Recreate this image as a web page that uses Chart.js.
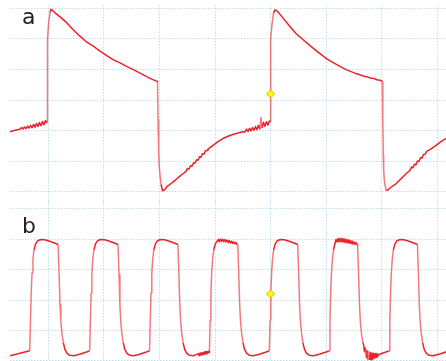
<!DOCTYPE html>
<html>
<head>
<meta charset="utf-8">
<script src="https://cdn.jsdelivr.net/npm/chart.js@4.4.1/dist/chart.umd.min.js"></script>
<style>
  html, body { margin: 0; padding: 0; background: #fff; }
  #scope { position: relative; width: 446px; height: 361px; overflow: hidden; }
  #scope canvas { position: absolute; left: 10px; }
  #scopeA { top: 5px; }
  #scopeB { top: 202px; }
  .trace-label {
    position: absolute; left: 22px; z-index: 2;
    font: 22px 'DejaVu Sans', sans-serif; line-height: 22px; color: #222;
  }
</style>
</head>
<body>
<div id="scope">
  <canvas id="scopeA" width="436" height="197"></canvas>
  <canvas id="scopeB" width="436" height="159"></canvas>
  <div class="trace-label" style="top:6px">a</div>
  <div class="trace-label" style="top:215px">b</div>
</div>
<script>
// time in divisions (0 = trigger), amplitude in divisions
const TIME_TICKS = [-4, -3, -2, -1, 0, 1, 2, 3];
const VOLT_TICKS_A = [-3, -2, -1, 0, 1, 2, 3];
const VOLT_TICKS_B = [-2, -1, 0, 1, 2, 3];
const TRIGGER = [[0, 0.2]];

const traceA = [
  [-4.690,-1.036],[-4.600,-0.990],
  [-4.510,-0.954],[-4.483,-0.901],[-4.456,-0.947],[-4.429,-0.882],[-4.402,-0.934],[-4.375,-0.855],
  [-4.348,-0.921],[-4.321,-0.829],[-4.294,-0.908],[-4.267,-0.799],[-4.240,-0.888],[-4.213,-0.770],
  [-4.186,-0.865],[-4.159,-0.737],[-4.132,-0.842],[-4.105,-0.704],[-4.078,-0.809],[-4.051,-0.671],
  [-4.033,-0.734],
  [-4.024,-0.700],[-4.018,0.664],[-4.013,1.980],[-3.997,2.474],[-3.970,2.868],[-3.952,2.967],[-3.925,2.941],
  [-3.880,2.852],[-3.790,2.720],[-3.669,2.530],[-3.556,2.309],[-3.430,2.089],[-3.322,1.914],
  [-3.191,1.760],[-3.070,1.602],[-2.949,1.454],[-2.836,1.322],[-2.710,1.214],[-2.584,1.092],
  [-2.471,0.993],[-2.332,0.862],[-2.170,0.707],[-2.044,0.609],
  [-2.035,0.599],[-2.026,-0.651],[-2.015,-1.638],[-2.005,-2.132],[-1.990,-2.461],[-1.972,-2.757],[-1.945,-2.970],
  [-1.909,-2.938],[-1.870,-2.845],[-1.810,-2.757],[-1.751,-2.681],[-1.666,-2.543],[-1.571,-2.405],
  [-1.522,-2.336],[-1.495,-2.237],[-1.468,-2.260],[-1.441,-2.151],[-1.414,-2.168],[-1.387,-2.053],
  [-1.360,-2.069],[-1.333,-1.954],[-1.306,-1.970],[-1.279,-1.855],[-1.252,-1.872],[-1.225,-1.757],
  [-1.198,-1.770],[-1.171,-1.658],[-1.144,-1.651],
  [-1.127,-1.605],[-1.031,-1.474],[-0.947,-1.359],[-0.851,-1.253],[-0.731,-1.161],[-0.623,-1.095],[-0.497,-1.036],
  [-0.461,-1.046],[-0.434,-0.954],[-0.407,-1.033],[-0.380,-0.928],[-0.353,-1.013],[-0.326,-0.901],
  [-0.299,-0.993],[-0.272,-0.868],[-0.245,-0.974],[-0.218,-0.829],[-0.191,-0.954],[-0.173,-0.569],
  [-0.155,-0.908],[-0.128,-0.730],[-0.101,-0.862],[-0.074,-0.711],[-0.047,-0.822],[-0.020,-0.684],
  [-0.007,-0.701],
  [-0.005,-0.700],[-0.002,0.664],[0.004,1.980],[0.025,2.474],[0.052,2.836],[0.079,2.951],[0.115,2.918],
  [0.229,2.671],[0.349,2.408],[0.457,2.178],[0.601,1.947],[0.758,1.707],[0.889,1.520],
  [1.010,1.345],[1.159,1.191],[1.357,0.993],[1.519,0.878],[1.657,0.796],
  [1.699,0.766],[1.753,0.750],[1.807,0.714],[1.861,0.704],[1.915,0.664],[1.969,0.648],[2.005,0.615],
  [2.010,0.599],[2.019,-0.651],[2.028,-1.803],[2.035,-2.296],[2.050,-2.691],[2.082,-2.964],
  [2.113,-2.938],[2.167,-2.855],[2.262,-2.734],[2.347,-2.576],[2.442,-2.405],
  [2.509,-2.303],[2.536,-2.191],[2.563,-2.217],[2.590,-2.099],[2.617,-2.118],[2.644,-1.993],
  [2.671,-2.013],[2.698,-1.888],[2.725,-1.901],[2.752,-1.783],[2.779,-1.783],[2.806,-1.684],
  [2.868,-1.622],[2.982,-1.474],[3.066,-1.359],[3.162,-1.253],
];

const traceB = [
  [-4.690,-1.833],[-4.510,-1.751],
  // cycle 1
  [-4.335,-1.669],[-4.321,-0.654],[-4.308,0.229],[-4.294,0.884],[-4.277,1.342],[-4.258,1.636],
  [-4.231,1.833],[-4.191,1.947],[-4.137,1.986],[-4.065,1.976],[-3.975,1.931],[-3.903,1.882],
  [-3.824,1.823],[-3.806,0.818],[-3.790,-0.164],[-3.774,-0.720],[-3.754,-1.113],[-3.730,-1.407],
  [-3.702,-1.620],[-3.666,-1.744],[-3.615,-1.816],[-3.543,-1.833],[-3.435,-1.783],[-3.327,-1.718],
  // cycle 2
  [-3.257,-1.669],[-3.243,-0.654],[-3.230,0.229],[-3.216,0.884],[-3.199,1.342],[-3.180,1.636],
  [-3.153,1.833],[-3.113,1.947],[-3.059,1.986],[-2.987,1.976],[-2.897,1.931],[-2.825,1.882],
  [-2.746,1.823],[-2.728,0.818],[-2.712,-0.164],[-2.696,-0.720],[-2.676,-1.113],[-2.652,-1.407],
  [-2.624,-1.620],[-2.588,-1.744],[-2.537,-1.816],[-2.465,-1.833],[-2.357,-1.783],[-2.249,-1.718],
  // cycle 3
  [-2.179,-1.669],[-2.165,-0.654],[-2.152,0.229],[-2.138,0.884],[-2.121,1.342],[-2.102,1.636],
  [-2.075,1.833],[-2.035,1.947],[-1.981,1.986],[-1.909,1.976],[-1.819,1.931],[-1.747,1.882],
  [-1.668,1.823],[-1.650,0.818],[-1.634,-0.164],[-1.618,-0.720],[-1.598,-1.113],[-1.574,-1.407],
  [-1.546,-1.620],[-1.510,-1.744],[-1.459,-1.816],[-1.387,-1.833],
  [-1.300,-1.760],[-1.285,-1.830],[-1.270,-1.745],[-1.255,-1.815],[-1.240,-1.730],[-1.225,-1.800],
  [-1.210,-1.715],[-1.195,-1.785],[-1.180,-1.700],[-1.165,-1.770],[-1.150,-1.690],[-1.135,-1.755],
  [-1.120,-1.680],[-1.108,-1.720],
  // cycle 4
  [-1.101,-1.669],[-1.087,-0.654],[-1.074,0.229],[-1.060,0.884],[-1.043,1.342],[-1.024,1.636],
  [-0.997,1.833],[-0.957,1.947],
  [-0.940,1.985],[-0.925,1.915],[-0.905,2.000],[-0.885,1.925],[-0.865,1.995],[-0.845,1.915],
  [-0.825,1.985],[-0.805,1.905],[-0.785,1.970],[-0.765,1.890],[-0.745,1.955],[-0.725,1.875],
  [-0.705,1.935],[-0.685,1.860],[-0.665,1.915],[-0.645,1.845],[-0.625,1.890],[-0.605,1.830],
  [-0.590,1.823],[-0.572,0.818],[-0.556,-0.164],[-0.540,-0.720],[-0.520,-1.113],[-0.496,-1.407],
  [-0.468,-1.620],[-0.432,-1.744],[-0.381,-1.816],[-0.309,-1.833],[-0.201,-1.783],[-0.093,-1.718],
  // cycle 5 (trigger)
  [-0.023,-1.669],[-0.009,-0.654],[0.004,0.229],[0.018,0.884],[0.035,1.342],[0.054,1.636],
  [0.081,1.833],[0.121,1.947],[0.175,1.986],[0.247,1.976],[0.337,1.931],[0.409,1.882],
  [0.488,1.823],[0.506,0.818],[0.522,-0.164],[0.538,-0.720],[0.558,-1.113],[0.582,-1.407],
  [0.610,-1.620],[0.646,-1.744],[0.697,-1.816],[0.769,-1.833],[0.877,-1.783],[0.985,-1.718],
  // cycle 6
  [1.055,-1.669],[1.069,-0.654],[1.082,0.229],[1.096,0.884],[1.113,1.342],[1.132,1.636],
  [1.160,1.870],[1.178,1.990],[1.196,1.905],[1.214,2.020],[1.232,1.915],[1.250,2.025],
  [1.268,1.910],[1.286,2.020],[1.304,1.900],[1.322,2.010],[1.340,1.890],[1.358,1.995],
  [1.376,1.880],[1.394,1.980],[1.412,1.865],[1.430,1.965],[1.448,1.850],[1.466,1.940],
  [1.484,1.835],[1.502,1.910],[1.520,1.830],[1.540,1.880],[1.560,1.815],
  [1.566,1.823],[1.584,0.818],[1.600,-0.164],[1.616,-0.720],[1.636,-1.113],[1.660,-1.407],
  [1.675,-1.480],[1.690,-1.700],[1.705,-1.560],[1.720,-1.900],[1.735,-1.650],[1.750,-1.960],
  [1.765,-1.690],[1.780,-1.970],[1.795,-1.720],[1.810,-1.960],[1.825,-1.740],[1.840,-1.940],
  [1.855,-1.750],[1.870,-1.910],[1.885,-1.760],[1.900,-1.880],[1.915,-1.760],[1.930,-1.840],
  [1.950,-1.790],[2.063,-1.718],
  // cycle 7
  [2.132,-1.669],[2.146,-0.654],[2.159,0.229],[2.173,0.884],[2.190,1.342],[2.209,1.636],
  [2.236,1.833],[2.276,1.947],[2.330,1.986],[2.402,1.976],[2.492,1.931],[2.564,1.882],
  [2.643,1.823],[2.661,0.818],[2.677,-0.164],[2.693,-0.720],[2.713,-1.113],[2.737,-1.407],
  [2.765,-1.620],[2.801,-1.744],[2.852,-1.816],[2.924,-1.833],[3.032,-1.783],[3.140,-1.718],
  [3.160,-1.700],
];

const ScopePanel = (() => {
  const GRID_COLOR = '#bfe0ea';
  const TRACE_COLOR = 'rgb(238,32,42)';
  const EDGE_COLOR = 'rgba(238,32,42,0.6)';
  const X_RANGE = { min: -4.690, max: 3.157 };

  const toPoints = pairs => pairs.map(p => ({ x: p[0], y: p[1] }));

  // near-vertical edges come out thinner/paler on the scope screen
  const edgeColor = ctx => {
    const dx = Math.abs(ctx.p1.x - ctx.p0.x);
    const dy = Math.abs(ctx.p1.y - ctx.p0.y);
    return dy > 4 * dx && dy > 8 ? EDGE_COLOR : undefined;
  };

  function axis(range, ticks, horizontal) {
    return {
      type: 'linear',
      min: range.min,
      max: range.max,
      afterBuildTicks: s => { s.ticks = ticks.map(v => ({ value: v })); },
      afterFit: s => { if (horizontal) s.height = 0; else s.width = 0; },
      ticks: { display: false },
      grid: { color: GRID_COLOR, lineWidth: 1, drawTicks: false },
      border: { display: false, dash: [1.5, 1.5] },
    };
  }

  function render(canvasId, trace, yRange, yTicks) {
    const ctx = document.getElementById(canvasId).getContext('2d');
    return new Chart(ctx, {
      type: 'line',
      data: {
        datasets: [
          {
            data: toPoints(TRIGGER),
            showLine: false,
            pointStyle: 'rectRot',
            pointRadius: 4,
            pointBackgroundColor: '#ffff00',
            pointBorderColor: '#c8b800',
            pointBorderWidth: 1,
          },
          {
            data: toPoints(trace),
            borderColor: TRACE_COLOR,
            borderWidth: 1.5,
            borderJoinStyle: 'round',
            pointRadius: 0,
            tension: 0,
            fill: false,
            segment: { borderColor: edgeColor },
          },
        ],
      },
      options: {
        responsive: false,
        animation: false,
        events: [],
        layout: { padding: 0, autoPadding: false },
        plugins: { legend: { display: false }, tooltip: { enabled: false } },
        scales: {
          x: axis(X_RANGE, TIME_TICKS, true),
          y: axis(yRange, yTicks, false),
        },
      },
    });
  }

  return { render };
})();

ScopePanel.render('scopeA', traceA, { min: -3.338, max: 3.109 }, VOLT_TICKS_A);
ScopePanel.render('scopeB', traceB, { min: -2.003, max: 3.218 }, VOLT_TICKS_B);
</script>
</body>
</html>
